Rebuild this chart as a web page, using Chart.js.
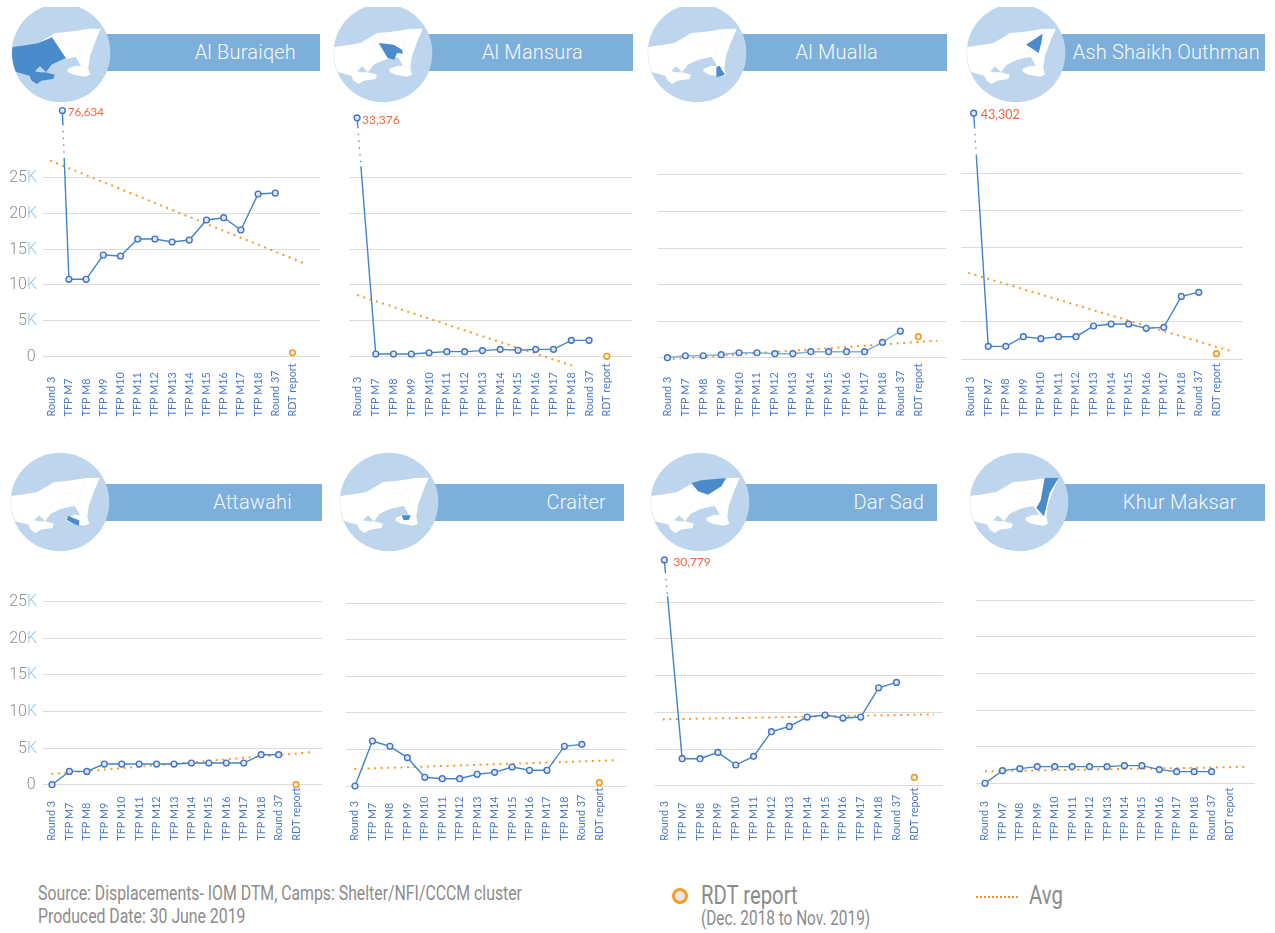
<!DOCTYPE html>
<html>
<head>
<meta charset="utf-8">
<title>Displacement by district</title>
<script src="https://cdn.jsdelivr.net/npm/chart.js@4/dist/chart.umd.min.js"></script>
<style>
  html, body { margin: 0; padding: 0; background: #fff; }
  body { position: relative; width: 1275px; height: 933px; overflow: hidden; }
  canvas { position: absolute; }
  .bar { position: absolute; height: 37px; background: #7dafdb; }
  .title { position: absolute; height: 37px; color: #f4f8fc; font: 300 20px/37px Roboto, sans-serif; white-space: nowrap; letter-spacing: 0.2px; }
  .map { position: absolute; width: 100px; height: 100px; }
  .topCut { position: absolute; left: 0; top: 0; width: 1275px; height: 7px; background: #fff; }
  .note { position: absolute; color: #8c8c8c; font-family: Roboto, sans-serif; white-space: nowrap; transform: scaleX(0.78); transform-origin: left top; }
</style>
</head>
<body>
<svg width="0" height="0" style="position:absolute">
  <defs>
    <clipPath id="disc"><circle cx="0" cy="0" r="147"></circle></clipPath>
    <g id="land">
      <circle cx="0" cy="0" r="148" fill="#bdd6ed"></circle>
      <g clip-path="url(#disc)" fill="#fff">
        <path d="M-155,-17 L-103,-24 -68,-30 -38,-47 -18,-60 12,-62 47,-67 78,-72 119,-73 102,-32 87,8 82,45 60,40 52,25 44,12 30,14 13,18 -3,23 -28,35 -45,58 -63,40 -78,55 -63,58 -45,58 -18,65 -23,78 -58,83 -73,93 -88,83 -95,68 -133,58 -155,50 Z"></path>
        <path d="M19,48 42,38 62,40 72,43 82,45 87,65 72,71 37,65 20,56 Z"></path>
      </g>
      <path d="M-27,-47 15,16 M77,-72 52,18 M-10,-30 30,-25 64,-47 M32,-25 68,0" fill="none" stroke="#e3edf6" stroke-width="1"></path>
    </g>
  </defs>
</svg>
<div class="note" style="left:38px;top:882px;font-size:20.3px;line-height:23px;">Source: Displacements- IOM DTM, Camps: Shelter/NFI/CCCM cluster<br>Produced Date: 30 June 2019</div>
<div style="position:absolute;left:672px;top:888px;width:10px;height:10px;border:3px solid #f59a23;border-radius:50%;background:#e8e8e8;"></div>
<div class="note" style="left:701px;top:881px;font-size:26px;line-height:29px;">RDT report</div>
<div class="note" style="left:701px;top:908px;font-size:19.7px;line-height:22px;">(Dec. 2018 to Nov. 2019)</div>
<div style="position:absolute;left:976px;top:896px;width:44px;height:2px;background:repeating-linear-gradient(to right,#f28e2b 0,#f28e2b 2px,transparent 2px,transparent 4px);"></div>
<div class="note" style="left:1029px;top:881px;font-size:26px;line-height:29px;">Avg</div>

<script>
"use strict";

const categories = ["Round 3", "TFP M7", "TFP M8", "TFP M9", "TFP M10", "TFP M11", "TFP M12", "TFP M13", "TFP M14", "TFP M15", "TFP M16", "TFP M17", "TFP M18", "Round 37", "RDT report"];
const yTickValues = [0, 5000, 10000, 15000, 20000, 25000];

const alBuraiqehValues = [76634, 10780, 10780, 14180, 14040, 16420, 16420, 16000, 16280, 19080, 19400, 17680, 22720, 22860];
const alBuraiqehRdt = 500;
const alBuraiqehAvg = [27400, 12900];

const alMansuraValues = [33376, 320, 320, 320, 500, 650, 650, 800, 970, 840, 970, 970, 2230, 2230];
const alMansuraRdt = 0;
const alMansuraAvg = [8580, -1460];

const alMuallaValues = [0, 270, 270, 410, 680, 680, 550, 550, 820, 820, 820, 820, 2100, 3650];
const alMuallaRdt = 2880;
const alMuallaAvg = [-180, 2330];

const ashShaikhValues = [43302, 1700, 1700, 3000, 2740, 3000, 3000, 4440, 4710, 4710, 4130, 4260, 8430, 8970];
const ashShaikhRdt = 720;
const ashShaikhAvg = [11600, 980];

const attawahiValues = [0, 1820, 1820, 2820, 2820, 2820, 2820, 2820, 2960, 2960, 2960, 2960, 4100, 4100];
const attawahiRdt = 0;
const attawahiAvg = [1460, 4420];

const craiterValues = [0, 6160, 5430, 3880, 1190, 1000, 1000, 1600, 1870, 2600, 2150, 2150, 5430, 5700];
const craiterRdt = 460;
const craiterAvg = [2330, 3520];

const darSadValues = [30779, 3680, 3680, 4540, 2820, 4000, 7360, 8080, 9360, 9630, 9220, 9360, 13350, 14080];
const darSadRdt = 1130;
const darSadAvg = [9040, 9720];

const khurMaksarValues = [0, 1730, 2000, 2280, 2280, 2280, 2280, 2280, 2410, 2410, 1870, 1590, 1590, 1590];
const khurMaksarRdt = null;
const khurMaksarAvg = [1640, 2230];

// page layout per panel, the y scale is fixed by the pixels of 0 and 25K
const panels = [
  { name: "Al Buraiqeh", values: alBuraiqehValues, rdt: alBuraiqehRdt, avg: alBuraiqehAvg, avgFrom: -0.1, avgTo: 14.8,
    cx: 60.7, cy: 53, barTop: 34, barRight: 320, titleRight: 296, gridL: 43, gridR: 320, y0: 356.3, y25: 177.7, x0: 51.7, step: 17.2, labelY: 416.5,
    yLabels: true, firstShift: 0.62, drawAt: 34400, breakAt: [32500, 27760], labelGap: 5.5, labelSize: 11.5,
    shape: "M-155,-17 -103,-24 -68,-30 -27,-47 15,16 -3,23 -28,35 -45,58 -63,40 -78,55 -63,58 -45,58 -18,65 -23,78 -58,83 -73,93 -88,83 -95,68 -133,58 -155,50 Z" },
  { name: "Al Mansura", values: alMansuraValues, rdt: alMansuraRdt, avg: alMansuraAvg, avgFrom: -0.05, avgTo: 12.24,
    cx: 382.7, cy: 53, barTop: 34, barRight: 632.7, titleRight: 583, gridL: 349.3, gridR: 632.7, y0: 356.3, y25: 177.7, x0: 358.3, step: 17.8, labelY: 416.5,
    firstShift: -0.05, breakAt: [32100, 26600], labelGap: 5, labelSize: 12,
    shape: "M-13,-30 32,-25 57,-10 59,2 42,0 34,20 14,15 Z" },
  { name: "Al Mualla", values: alMuallaValues, rdt: alMuallaRdt, avg: alMuallaAvg, avgFrom: 0.3, avgTo: 15.06, lineColor: "#7fb2dd",
    cx: 696.7, cy: 53, barTop: 34, barRight: 946.7, titleRight: 878, gridL: 658.3, gridR: 946, y0: 357.7, y25: 175, x0: 667.7, step: 17.9, labelY: 416.5,
    shape: "M58,42 68,38 75,52 84,64 73,70 58,72 Z" },
  { name: "Ash Shaikh Outhman", values: ashShaikhValues, rdt: ashShaikhRdt, avg: ashShaikhAvg, avgFrom: -0.14, avgTo: 14.94,
    cx: 1015.7, cy: 53, barTop: 34, barRight: 1265, titleRight: 1260, gridL: 961, gridR: 1243.3, y0: 359, y25: 173.3, x0: 970.7, step: 17.57, labelY: 416.5,
    firstShift: 0.17, drawAt: 33100, breakAt: [31200, 27300], labelGap: 7, labelSize: 12.5,
    shape: "M80,-58 76,-30 68,0 50,-12 30,-25 Z" },
  { name: "Attawahi", values: attawahiValues, rdt: attawahiRdt, avg: attawahiAvg, avgFrom: -0.04, avgTo: 14.8,
    cx: 60, cy: 502.3, barTop: 484, barRight: 322, titleRight: 292, gridL: 42.7, gridR: 322, y0: 784.7, y25: 601.7, x0: 51.7, step: 17.45, labelY: 840.7,
    yLabels: true,
    shape: "M25,41 40,48 58,55 57,71 40,65 20,53 Z" },
  { name: "Craiter", values: craiterValues, rdt: craiterRdt, avg: craiterAvg, avgFrom: -0.04, avgTo: 14.85,
    cx: 389.3, cy: 502.3, barTop: 484, barRight: 624, titleRight: 606, gridL: 346, gridR: 626, y0: 786, y25: 603.3, x0: 355, step: 17.45, labelY: 840.7,
    shape: "M38,40 65,40 60,53 44,55 Z" },
  { name: "Dar Sad", values: darSadValues, rdt: darSadRdt, avg: darSadAvg, avgFrom: -0.09, avgTo: 15.1,
    cx: 700.3, cy: 502.3, barTop: 484, barRight: 936.7, titleRight: 924, gridL: 655, gridR: 942.7, y0: 785.7, y25: 602.3, x0: 664.3, step: 17.84, labelY: 840.7,
    breakAt: [29100, 25800], labelGap: 9, labelSize: 12,
    shape: "M-26,-57 4,-65 79,-72 64,-47 24,-22 -6,-32 Z" },
  { name: "Khur Maksar", values: khurMaksarValues, rdt: khurMaksarRdt, avg: khurMaksarAvg, avgFrom: 0, avgTo: 14.87,
    cx: 1019.3, cy: 502.3, barTop: 484, barRight: 1265, titleRight: 1236.7, gridL: 976, gridR: 1255, y0: 783.3, y25: 600.3, x0: 985, step: 17.43, labelY: 840.7,
    shape: "M77,-72 119,-73 92,-27 75,43 52,18 65,-5 Z" },
];

function addHeader(p) {
  const bar = document.createElement("div");
  bar.className = "bar";
  bar.style.left = p.cx + "px";
  bar.style.top = p.barTop + "px";
  bar.style.width = p.barRight - p.cx + "px";
  document.body.appendChild(bar);

  const holder = document.createElement("div");
  holder.innerHTML = `<svg class="map" viewBox="-150 -150 300 300" style="left:${p.cx - 50}px;top:${p.cy - 50}px">
    <use href="#land"></use><path d="${p.shape}" fill="#4a8ccb" clip-path="url(#disc)"></path></svg>`;
  document.body.appendChild(holder.firstChild);

  const title = document.createElement("div");
  title.className = "title";
  title.textContent = p.name;
  title.style.right = 1275 - p.titleRight + "px";
  title.style.top = p.barTop - 0.5 + "px";
  document.body.appendChild(title);
}

function addPanel(p) {
  const top = p.barTop + 66;
  const height = 330;
  const padLeft = 42;
  const padTop = 2;
  const padBottom = 70;

  const canvas = document.createElement("canvas");
  canvas.width = Math.round(p.gridR - p.gridL + padLeft + 2);
  canvas.height = height;
  canvas.style.left = p.gridL - padLeft + "px";
  canvas.style.top = top + "px";
  document.body.appendChild(canvas);

  const pxPerUnit = (p.y0 - p.y25) / 25000;
  const areaTop = top + padTop;
  const areaBottom = top + height - padBottom;

  const lineData = p.values.map((v, i) => ({
    x: i === 0 && p.firstShift ? p.firstShift : i,
    y: i === 0 && p.drawAt ? p.drawAt : v,
  }));

  const panelText = {
    id: "panelText",
    afterDatasetsDraw(chart) {
      const ctx = chart.ctx;
      const xs = chart.scales.x;
      const ys = chart.scales.y;
      const first = chart.getDatasetMeta(1).data[0];
      const next = chart.getDatasetMeta(1).data[1];

      // the axis break on the drop from Round 3
      if (p.breakAt) {
        const pointAt = (value) => {
          const y = ys.getPixelForValue(value);
          return [first.x + ((next.x - first.x) * (y - first.y)) / (next.y - first.y), y];
        };
        const a = pointAt(p.breakAt[0]);
        const b = pointAt(p.breakAt[1]);
        ctx.save();
        ctx.beginPath();
        ctx.moveTo(a[0], a[1]);
        ctx.lineTo(b[0], b[1]);
        ctx.strokeStyle = "#fff";
        ctx.lineWidth = 3.5;
        ctx.stroke();
        ctx.beginPath();
        ctx.moveTo(a[0], a[1]);
        ctx.lineTo(b[0], b[1]);
        ctx.strokeStyle = "#4472c4";
        ctx.lineWidth = 1.3;
        ctx.setLineDash([1.3, 5.5]);
        ctx.stroke();
        ctx.restore();
      }

      // value of the off-scale point
      if (p.labelSize) {
        ctx.save();
        ctx.font = `${p.labelSize}px Lato, sans-serif`;
        ctx.fillStyle = "#f2643c";
        ctx.textAlign = "left";
        ctx.textBaseline = "middle";
        ctx.fillText(p.values[0].toLocaleString("en-US"), first.x + p.labelGap, first.y + 2);
        ctx.restore();
      }

      // x labels read upward and start from a common bottom line
      ctx.save();
      ctx.font = "10.8px Lato, sans-serif";
      ctx.fillStyle = "#4d79c7";
      ctx.textAlign = "left";
      ctx.textBaseline = "middle";
      categories.forEach((label, i) => {
        ctx.save();
        ctx.translate(xs.getPixelForValue(i), p.labelY - top);
        ctx.rotate(-Math.PI / 2);
        ctx.fillText(label, 0, 0);
        ctx.restore();
      });
      ctx.restore();

      // y labels, number in grey and K in blue
      if (p.yLabels) {
        ctx.save();
        ctx.font = "300 16px Roboto, sans-serif";
        ctx.textAlign = "right";
        ctx.textBaseline = "middle";
        yTickValues.forEach((v) => {
          const y = ys.getPixelForValue(v);
          if (v === 0) {
            ctx.fillStyle = "#8f8f8f";
            ctx.fillText("0", padLeft - 7.5, y + 0.5);
            return;
          }
          const right = padLeft - 6;
          ctx.fillStyle = "#9dc3e6";
          ctx.fillText("K", right, y + 0.5);
          ctx.fillStyle = "#8f8f8f";
          ctx.fillText(String(v / 1000), right - ctx.measureText("K").width, y + 0.5);
        });
        ctx.restore();
      }
    },
  };

  new Chart(canvas.getContext("2d"), {
    type: "line",
    data: {
      datasets: [
        {
          label: "RDT report",
          data: [{ x: 14, y: p.rdt }],
          showLine: false,
          pointRadius: 2.8,
          pointBorderWidth: 1.6,
          pointBorderColor: "#f59a23",
          pointBackgroundColor: "#fdf3e3",
          clip: false,
        },
        {
          label: p.name,
          data: lineData,
          borderColor: p.lineColor || "#3f87c8",
          borderWidth: 1.4,
          tension: 0,
          pointRadius: 2.9,
          pointBorderWidth: 1.4,
          pointBorderColor: "#4472c4",
          pointBackgroundColor: "#dfe8f4",
          clip: false,
        },
        {
          label: "Avg",
          data: [
            { x: p.avgFrom, y: p.avg[0] },
            { x: p.avgTo, y: p.avg[1] },
          ],
          borderColor: "#f79a2a",
          borderWidth: 2,
          borderDash: [2, 4.6],
          tension: 0,
          pointRadius: 0,
          clip: false,
        },
      ],
    },
    options: {
      responsive: false,
      animation: false,
      devicePixelRatio: 1,
      parsing: false,
      normalized: true,
      layout: { autoPadding: false, padding: { left: padLeft, right: 2, top: padTop, bottom: padBottom } },
      plugins: { legend: { display: false }, tooltip: { enabled: false } },
      scales: {
        x: {
          type: "linear",
          min: (p.gridL - p.x0) / p.step,
          max: (p.gridR - p.x0) / p.step,
          afterBuildTicks: (scale) => {
            scale.ticks = categories.map((c, i) => ({ value: i }));
          },
          grid: { display: false, drawTicks: false },
          border: { display: false },
          ticks: { display: false },
        },
        y: {
          type: "linear",
          min: (p.y0 - areaBottom) / pxPerUnit,
          max: (p.y0 - areaTop) / pxPerUnit,
          afterBuildTicks: (scale) => {
            scale.ticks = yTickValues.map((v) => ({ value: v }));
          },
          grid: { color: "#dcdcdc", lineWidth: 1, drawTicks: false },
          border: { display: false },
          ticks: { display: false },
        },
      },
    },
    plugins: [panelText],
  });
}

panels.forEach((p) => {
  addHeader(p);
  addPanel(p);
});

const topCut = document.createElement("div");
topCut.className = "topCut";
document.body.appendChild(topCut);
</script>
</body>
</html>
